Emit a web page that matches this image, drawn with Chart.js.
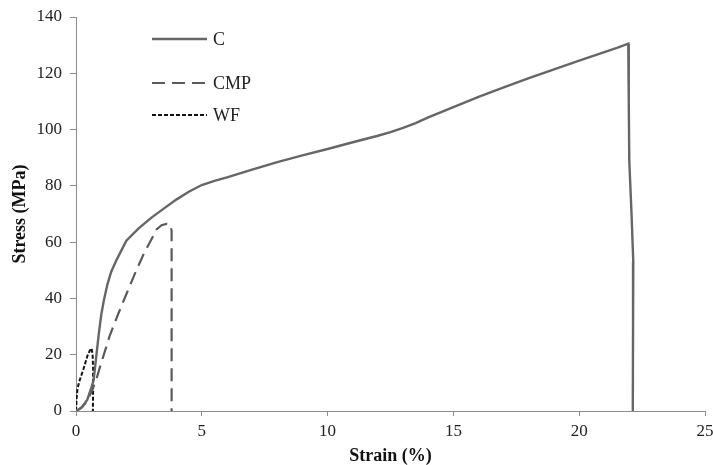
<!DOCTYPE html>
<html>
<head>
<meta charset="utf-8">
<script src="https://cdn.jsdelivr.net/npm/chart.js@4.4.0/dist/chart.umd.min.js"></script>
<style>
  body { margin: 0; background: #fff; }
  #wrap { width: 713px; height: 465px; }
</style>
</head>
<body>
<div id="wrap"><canvas id="stressChart" width="713" height="465"></canvas></div>
<script>
/* stress-strain curves
---------------------------- */
var seriesNames = ['C', 'CMP', 'WF'];

// C
var cStrain = [0, 0.1, 0.25, 0.45, 0.6, 0.7, 0.8, 0.9, 1.0, 1.1, 1.25, 1.4, 1.6, 1.8, 2.0, 2.5, 3.0, 3.5, 4.0, 4.5, 5.0, 5.5, 6, 7, 8, 9, 10, 11, 12, 12.5, 13, 13.5, 14, 15, 16, 17, 18, 19, 20, 21, 21.5, 21.95, 21.97, 21.99, 22.08, 22.15, 22.14, 22.13];
var cStress = [0, 0.5, 1.5, 4, 8, 11, 19, 27, 34, 39, 45, 49.5, 53.5, 57, 60.5, 65, 68.7, 72, 75.2, 78, 80.3, 81.8, 83, 85.8, 88.4, 90.8, 93.1, 95.5, 97.8, 99.1, 100.6, 102.3, 104.3, 108, 111.6, 115, 118.3, 121.4, 124.5, 127.5, 129, 130.5, 110, 89, 70, 53, 30, 0];

// CMP
var cmpStrain = [0, 0.2, 0.4, 0.6, 0.8, 1.0, 1.35, 1.7, 2.0, 2.35, 2.7, 3.0, 3.2, 3.4, 3.6, 3.75, 3.8, 3.8];
var cmpStress = [0, 1, 3, 6.5, 11, 17, 27, 35, 41.5, 49, 56, 61, 64.5, 66, 66.5, 66.3, 64, 0];

// WF
var wfStrain = [0, 0.02, 0.06, 0.15, 0.3, 0.45, 0.55, 0.62, 0.66, 0.68, 0.68, 0.67];
var wfStress = [0, 4, 8, 11, 15, 19.5, 21.5, 22.3, 20, 15, 8, 0];

var xTicks = [0, 5, 10, 15, 20, 25];
var yTicks = [0, 20, 40, 60, 80, 100, 120, 140];

function toPoints(xs, ys) {
  var pts = [];
  for (var i = 0; i < xs.length; i++) pts.push({x: xs[i], y: ys[i]});
  return pts;
}

var serif = "'Liberation Serif', 'Times New Roman', serif";
var axisColor = '#8c8c8c';

// legend drawn inside the plot, like the original
var inlineLegend = {
  id: 'inlineLegend',
  afterDraw: function(chart) {
    var ctx = chart.ctx;
    var area = chart.chartArea;
    var rowsY = [39, 83, 115];
    var x0 = area.left + 76, x1 = area.left + 131;
    ctx.save();
    chart.data.datasets.forEach(function(ds, i) {
      ctx.beginPath();
      ctx.setLineDash(ds.borderDash || []);
      ctx.strokeStyle = ds.borderColor;
      ctx.lineWidth = ds.borderWidth;
      ctx.moveTo(x0, rowsY[i]);
      ctx.lineTo(x1, rowsY[i]);
      ctx.stroke();
      ctx.setLineDash([]);
      ctx.fillStyle = '#222';
      ctx.font = '18px ' + serif;
      ctx.textBaseline = 'middle';
      ctx.fillText(ds.label, x1 + 6, rowsY[i] + 1);
    });
    ctx.restore();
  }
};

function noSidePadding(s) {
  s.paddingLeft = 0; s.paddingRight = 0;
  s.paddingTop = 0; s.paddingBottom = 0;
}

var ctx1 = document.getElementById('stressChart');
var stressChart = new Chart(ctx1, {
  type: 'scatter',
  data: {
    datasets: [{
      label: seriesNames[0],
      data: toPoints(cStrain, cStress),
      showLine: true,
      borderColor: '#666666',
      borderWidth: 2.4,
      pointRadius: 0,
      tension: 0
    }, {
      label: seriesNames[1],
      data: toPoints(cmpStrain, cmpStress),
      showLine: true,
      borderColor: '#5a5a5a',
      borderWidth: 2.2,
      borderDash: [13, 7],
      pointRadius: 0,
      tension: 0
    }, {
      label: seriesNames[2],
      data: toPoints(wfStrain, wfStress),
      showLine: true,
      borderColor: '#111',
      borderWidth: 2,
      borderDash: [4, 2],
      pointRadius: 0,
      tension: 0
    }]
  },
  options: {
    responsive: false,
    animation: false,
    layout: { padding: { top: 17, right: 8, left: 0, bottom: 0 } },
    plugins: {
      legend: { display: false },
      tooltip: { enabled: false }
    },
    scales: {
      x: {
        type: 'linear',
        min: 0, max: 25,
        afterBuildTicks: function(s) { s.ticks = xTicks.map(function(v) { return {value: v}; }); },
        afterFit: function(s) { s.height = 54; noSidePadding(s); },
        ticks: { font: { family: serif, size: 17 }, color: '#222', padding: 5, maxRotation: 0 },
        grid: { drawOnChartArea: false, drawTicks: true, tickLength: 5, color: axisColor },
        border: { color: axisColor },
        title: { display: true, text: 'Strain (%)', font: { family: serif, size: 18, weight: 'bold', lineHeight: 1 }, color: '#111', padding: { top: 0, bottom: 0 } }
      },
      y: {
        min: 0, max: 140,
        afterBuildTicks: function(s) { s.ticks = yTicks.map(function(v) { return {value: v}; }); },
        afterFit: function(s) { s.width = 76; noSidePadding(s); },
        ticks: { font: { family: serif, size: 17 }, color: '#222', padding: 8 },
        grid: { drawOnChartArea: false, drawTicks: true, tickLength: 6, color: axisColor },
        border: { color: axisColor },
        title: { display: true, text: 'Stress (MPa)', font: { family: serif, size: 18, weight: 'bold', lineHeight: 1 }, color: '#111', padding: { top: 11, bottom: 0 } }
      }
    }
  },
  plugins: [inlineLegend]
});
</script>
</body>
</html>
